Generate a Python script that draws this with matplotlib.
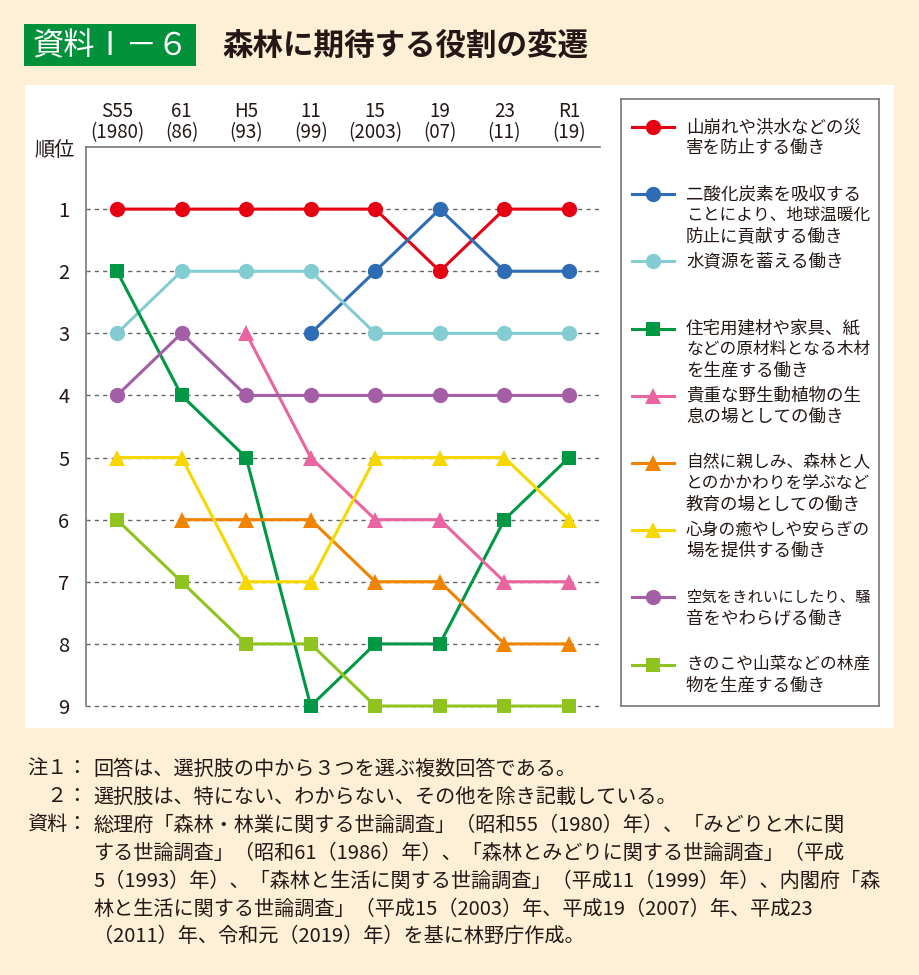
import numpy as np
import matplotlib
matplotlib.use("Agg")
import matplotlib.pyplot as plt
from matplotlib.patches import Rectangle

plt.rcParams['font.family'] = ['Noto Sans CJK JP', 'DejaVu Sans']

# chart data ---------------------------------------------------------------
years = ['S55\n(1980)', '61\n(86)', 'H5\n(93)', '11\n(99)',
         '15\n(2003)', '19\n(07)', '23\n(11)', 'R1\n(19)']
nan = np.nan

rank_disaster = [1, 1, 1, 1, 1, 2, 1, 1]
rank_co2 = [nan, nan, nan, 3, 2, 1, 2, 2]
rank_water = [3, 2, 2, 2, 3, 3, 3, 3]
rank_timber = [2, 4, 5, 9, 8, 8, 6, 5]
rank_wildlife = [nan, nan, 3, 5, 6, 6, 7, 7]
rank_education = [nan, 6, 6, 6, 7, 7, 8, 8]
rank_healing = [5, 5, 7, 7, 5, 5, 5, 6]
rank_air = [4, 3, 4, 4, 4, 4, 4, 4]
rank_products = [6, 7, 8, 8, 9, 9, 9, 9]

labels = [
    ['山崩れや洪水などの災', '害を防止する働き'],
    ['二酸化炭素を吸収する', 'ことにより、地球温暖化', '防止に貢献する働き'],
    ['水資源を蓄える働き'],
    ['住宅用建材や家具、紙', 'などの原材料となる木材', 'を生産する働き'],
    ['貴重な野生動植物の生', '息の場としての働き'],
    ['自然に親しみ、森林と人', 'とのかかわりを学ぶなど', '教育の場としての働き'],
    ['心身の癒やしや安らぎの', '場を提供する働き'],
    ['空気をきれいにしたり、騒', '音をやわらげる働き'],
    ['きのこや山菜などの林産', '物を生産する働き'],
]

notes = [
    ('注１：', '回答は、選択肢の中から３つを選ぶ複数回答である。'),
    ('　２：', '選択肢は、特にない、わからない、その他を除き記載している。'),
    ('資料：', '総理府「森林・林業に関する世論調査」（昭和55（1980）年）、「みどりと木に関'),
    ('', 'する世論調査」（昭和61（1986）年）、「森林とみどりに関する世論調査」（平成'),
    ('', '5（1993）年）、「森林と生活に関する世論調査」（平成11（1999）年）、内閣府「森'),
    ('', '林と生活に関する世論調査」（平成15（2003）年、平成19（2007）年、平成23'),
    ('', '（2011）年、令和元（2019）年）を基に林野庁作成。'),
]

series = [rank_disaster, rank_co2, rank_water, rank_timber, rank_wildlife,
          rank_education, rank_healing, rank_air, rank_products]
colors = ['#e60012', '#2e6db5', '#82ccd2', '#009844', '#ea64a0',
          '#f08300', '#f6d800', '#a35ea6', '#8fc31f']
markers = ['o', 'o', 'o', 's', '^', '^', '^', 'o', 's']
msizes = {'o': 11, 's': 9.5, '^': 12}

W, H = 919, 975
BG = '#fdf0d6'
TXT = '#231815'


def fx(x):
    return x / W


def fy(y):
    return 1 - y / H


fig = plt.figure(figsize=(W / 100, H / 100), dpi=100)
fig.patch.set_facecolor(BG)

# white panel behind chart
fig.add_artist(Rectangle((fx(25), fy(728)), fx(894) - fx(25), fy(85) - fy(728),
                         transform=fig.transFigure, facecolor='white',
                         edgecolor='none', zorder=0))

# title
fig.add_artist(Rectangle((fx(24), fy(66)), fx(196) - fx(24), fy(24) - fy(66),
                         transform=fig.transFigure, facecolor='#00913a',
                         edgecolor='none', zorder=1))
fig.text(fx(111), fy(46), '資料Ⅰ－６', color='white', fontsize=22.5,
         ha='center', va='center')
fig.text(fx(222), fy(46), '森林に期待する役割の変遷', color=TXT, fontsize=22,
         fontweight='bold', ha='left', va='center')

# main chart
ax = fig.add_axes([fx(86), fy(706), fx(600) - fx(86), fy(147) - fy(706)])
ax.set_facecolor('white')
x = np.arange(len(years))
for vals, c, m in zip(series, colors, markers):
    ax.plot(x, vals, color=c, lw=2.2, marker=m, markersize=msizes[m],
            markeredgewidth=0, zorder=3, clip_on=False)

ax.set_xlim(-0.48, len(years) - 0.52)
ax.set_ylim(9, 0)
ax.set_yticks(range(1, 10))
ax.set_yticklabels([str(i) for i in range(1, 10)])
ax.set_xticks(x)
ax.set_xticklabels(years, linespacing=1.0)
ax.xaxis.tick_top()
ax.tick_params(axis='x', length=0, pad=3, labelsize=13.5, labelcolor=TXT)
ax.tick_params(axis='y', length=0, pad=12, labelsize=14.5, labelcolor=TXT)
ax.grid(axis='y', color='#666666', lw=1, linestyle=(0, (3, 3)), zorder=1)
for gl in ax.get_ygridlines():
    gl.set_clip_on(False)
for side in ['right', 'bottom']:
    ax.spines[side].set_visible(False)
for side in ['top', 'left']:
    ax.spines[side].set_color('#777777')
    ax.spines[side].set_linewidth(1.2)
fig.text(fx(75), fy(150), '順位', fontsize=14.5, color=TXT, ha='right', va='center')

# legend box drawn in pixel coordinates
lax = fig.add_axes([fx(621), fy(706), fx(879) - fx(621), fy(99) - fy(706)])
lax.set_xlim(621, 879)
lax.set_ylim(706, 99)
lax.set_xticks([])
lax.set_yticks([])
for sp in lax.spines.values():
    sp.set_color('#777777')
    sp.set_linewidth(1.2)
for i, (lines, c, m) in enumerate(zip(labels, colors, markers)):
    y0 = 127 + 67.2 * i
    lax.plot([632, 674], [y0, y0], color=c, lw=2.2)
    lax.plot([653], [y0], color=c, marker=m, markersize=msizes[m], markeredgewidth=0)
    for k, line in enumerate(lines):
        # shrink long lines so they stay inside the box
        fs = min(12.6, 184 / (len(line) * 1.389))
        lax.text(686, y0 + 20.8 * k, line, fontsize=fs, color=TXT,
                 ha='left', va='center')

# notes below the chart
for j, (head, body) in enumerate(notes):
    yy = fy(769 + 28 * j)
    if head:
        fig.text(fx(27), yy, head, fontsize=14.5, color=TXT, ha='left', va='center')
    fig.text(fx(93), yy, body, fontsize=14.5, color=TXT, ha='left', va='center')

fig.savefig('out.png', dpi=100, facecolor=BG)
